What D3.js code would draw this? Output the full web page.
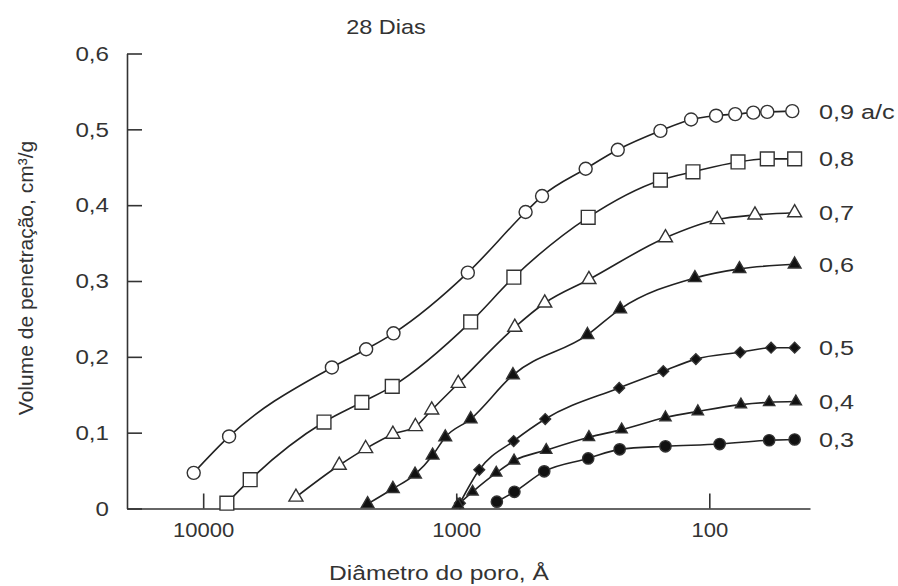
<!DOCTYPE html>
<html>
<head>
<meta charset="utf-8">
<script src="https://cdn.jsdelivr.net/npm/d3@7"></script>
<style>
  body { margin: 0; background: #fff; }
  svg text { font-family: "Liberation Sans", Arial, sans-serif; fill: #333; }
</style>
</head>
<body>
<div id="chart"></div>
<script>
// pore diameter (Å) and intruded volume (cm3/g) per water/cement ratio
const diam09 = [10900, 7900, 3100, 2270, 1770, 900, 532, 458, 308, 230, 156, 118, 94, 79, 67, 59, 47];
const vol09  = [0.047, 0.095, 0.186, 0.210, 0.231, 0.311, 0.391, 0.412, 0.448, 0.473, 0.498, 0.513, 0.518, 0.520, 0.522, 0.523, 0.524];

const diam08 = [8060, 6520, 3330, 2360, 1790, 877, 592, 301, 156, 116, 77, 59, 46];
const vol08  = [0.007, 0.038, 0.114, 0.140, 0.161, 0.246, 0.305, 0.384, 0.433, 0.444, 0.457, 0.461, 0.461];

const diam07 = [4300, 2900, 2280, 1780, 1450, 1250, 982, 587, 447, 299, 149, 93, 66, 46];
const vol07  = [0.015, 0.057, 0.079, 0.098, 0.108, 0.130, 0.165, 0.239, 0.271, 0.302, 0.357, 0.381, 0.387, 0.390];

const diam06 = [2240, 1780, 1455, 1240, 1105, 877, 597, 303, 225, 114, 76, 46];
const vol06  = [0.006, 0.026, 0.045, 0.070, 0.094, 0.118, 0.176, 0.229, 0.263, 0.304, 0.316, 0.322];

const diam05 = [967, 811, 593, 445, 227, 152, 113, 75.5, 57, 46];
const vol05  = [0.007, 0.051, 0.089, 0.118, 0.159, 0.181, 0.197, 0.206, 0.212, 0.212];

const diam04 = [985, 862, 695, 591, 441, 299, 222, 149, 111, 75, 58, 45.5];
const vol04  = [0.005, 0.022, 0.047, 0.063, 0.077, 0.094, 0.104, 0.120, 0.128, 0.137, 0.140, 0.141];

const diam03 = [691, 589, 449, 301, 226, 149, 91, 58, 46];
const vol03  = [0.009, 0.022, 0.049, 0.066, 0.078, 0.082, 0.085, 0.090, 0.091];

const seriesLabels = ["0,9 a/c", "0,8", "0,7", "0,6", "0,5", "0,4", "0,3"];
const xTickValues = [10000, 1000, 100];
const yTickValues = [0, 0.1, 0.2, 0.3, 0.4, 0.5, 0.6];

// marker look for each series
const markerStyle = [
  { type: d3.symbolCircle,   size: 133, fill: "#fff",  rotate: 0 },
  { type: d3.symbolSquare,   size: 190, fill: "#fff",  rotate: 0 },
  { type: d3.symbolTriangle, size: 85,  fill: "#fff",  rotate: 0 },
  { type: d3.symbolTriangle, size: 70,  fill: "#111",  rotate: 0 },
  { type: d3.symbolSquare,   size: 58,  fill: "#111",  rotate: 45 },
  { type: d3.symbolTriangle, size: 55,  fill: "#111",  rotate: 0 },
  { type: d3.symbolCircle,   size: 100, fill: "#111",  rotate: 0 }
];

const series = [
  [diam09, vol09], [diam08, vol08], [diam07, vol07], [diam06, vol06],
  [diam05, vol05], [diam04, vol04], [diam03, vol03]
].map((s, i) => ({
  label: seriesLabels[i],
  style: markerStyle[i],
  points: s[0].map((d, j) => ({ d: d, v: s[1][j] }))
}));

const width = 898;
const height = 586;

const svg = d3.select("#chart")
  .append("svg")
    .attr("width", width)
    .attr("height", height);

// the source font is a bit wider than Liberation Sans, stretch text sideways
function widen(sel, k) {
  sel.each(function() {
    const t = d3.select(this);
    const tx = +t.attr("x") || 0;
    const ty = +t.attr("y") || 0;
    t.attr("x", 0).attr("y", 0)
      .attr("transform", `translate(${tx},${ty}) scale(${k},1)`);
  });
}

// log scale, large pores on the left
const x = d3.scaleLog()
  .domain([20000, 40])
  .range([127, 810]);

const y = d3.scaleLinear()
  .domain([0, 0.6])
  .range([508.5, 53.5]);

// axes with inward ticks
const xAxis = svg.append("g")
  .attr("transform", `translate(0,${y(0)})`)
  .call(d3.axisBottom(x)
    .tickValues(xTickValues)
    .tickFormat(d3.format("d"))
    .tickSizeInner(-15)
    .tickSizeOuter(0)
    .tickPadding(14));

const yAxis = svg.append("g")
  .attr("transform", `translate(${x(20000)},0)`)
  .call(d3.axisLeft(y)
    .tickValues(yTickValues)
    .tickFormat(d => d3.format(".1f")(d).replace(".", ",").replace(/^0,0$/, "0"))
    .tickSizeInner(-15)
    .tickSizeOuter(0)
    .tickPadding(18));

[xAxis, yAxis].forEach(g => {
  g.selectAll("path, line").attr("stroke", "#333").attr("stroke-width", 1.6);
  g.selectAll("text").attr("font-size", 21).attr("fill", "#333");
});
widen(xAxis.selectAll("text"), 1.05);
widen(yAxis.selectAll("text"), 1.15);

// smooth curves through the points
const line = d3.line()
  .x(p => x(p.d))
  .y(p => y(p.v))
  .curve(d3.curveMonotoneX);

svg.append("g")
  .selectAll("path")
  .data(series)
  .join("path")
    .attr("d", s => line(s.points))
    .attr("fill", "none")
    .attr("stroke", "#222")
    .attr("stroke-width", 1.6);

// markers
series.forEach(s => {
  const sym = d3.symbol().type(s.style.type).size(s.style.size);
  svg.append("g")
    .selectAll("path")
    .data(s.points)
    .join("path")
      .attr("d", sym)
      .attr("transform", p => `translate(${x(p.d)},${y(p.v)}) rotate(${s.style.rotate})`)
      .attr("fill", s.style.fill)
      .attr("stroke", "#333")
      .attr("stroke-width", 1.4);
});

// series labels at the right end of each curve
const labels = svg.append("g")
  .selectAll("text")
  .data(series)
  .join("text")
    .attr("x", 819)
    .attr("y", s => y(s.points[s.points.length - 1].v) + 7.5)
    .attr("font-size", 21)
    .text(s => s.label);
widen(labels, 1.2);

// title and axis titles
const title = svg.append("text")
  .attr("x", 386)
  .attr("y", 34)
  .attr("text-anchor", "middle")
  .attr("font-size", 21)
  .text("28 Dias");
widen(title, 1.12);

const xTitle = svg.append("text")
  .attr("x", 439)
  .attr("y", 580)
  .attr("text-anchor", "middle")
  .attr("font-size", 21)
  .text("Diâmetro do poro, Å");
widen(xTitle, 1.17);

svg.append("text")
  .attr("transform", "translate(33,278) rotate(-90)")
  .attr("text-anchor", "middle")
  .attr("font-size", 21)
  .text("Volume de penetração, cm³/g");
</script>
</body>
</html>
